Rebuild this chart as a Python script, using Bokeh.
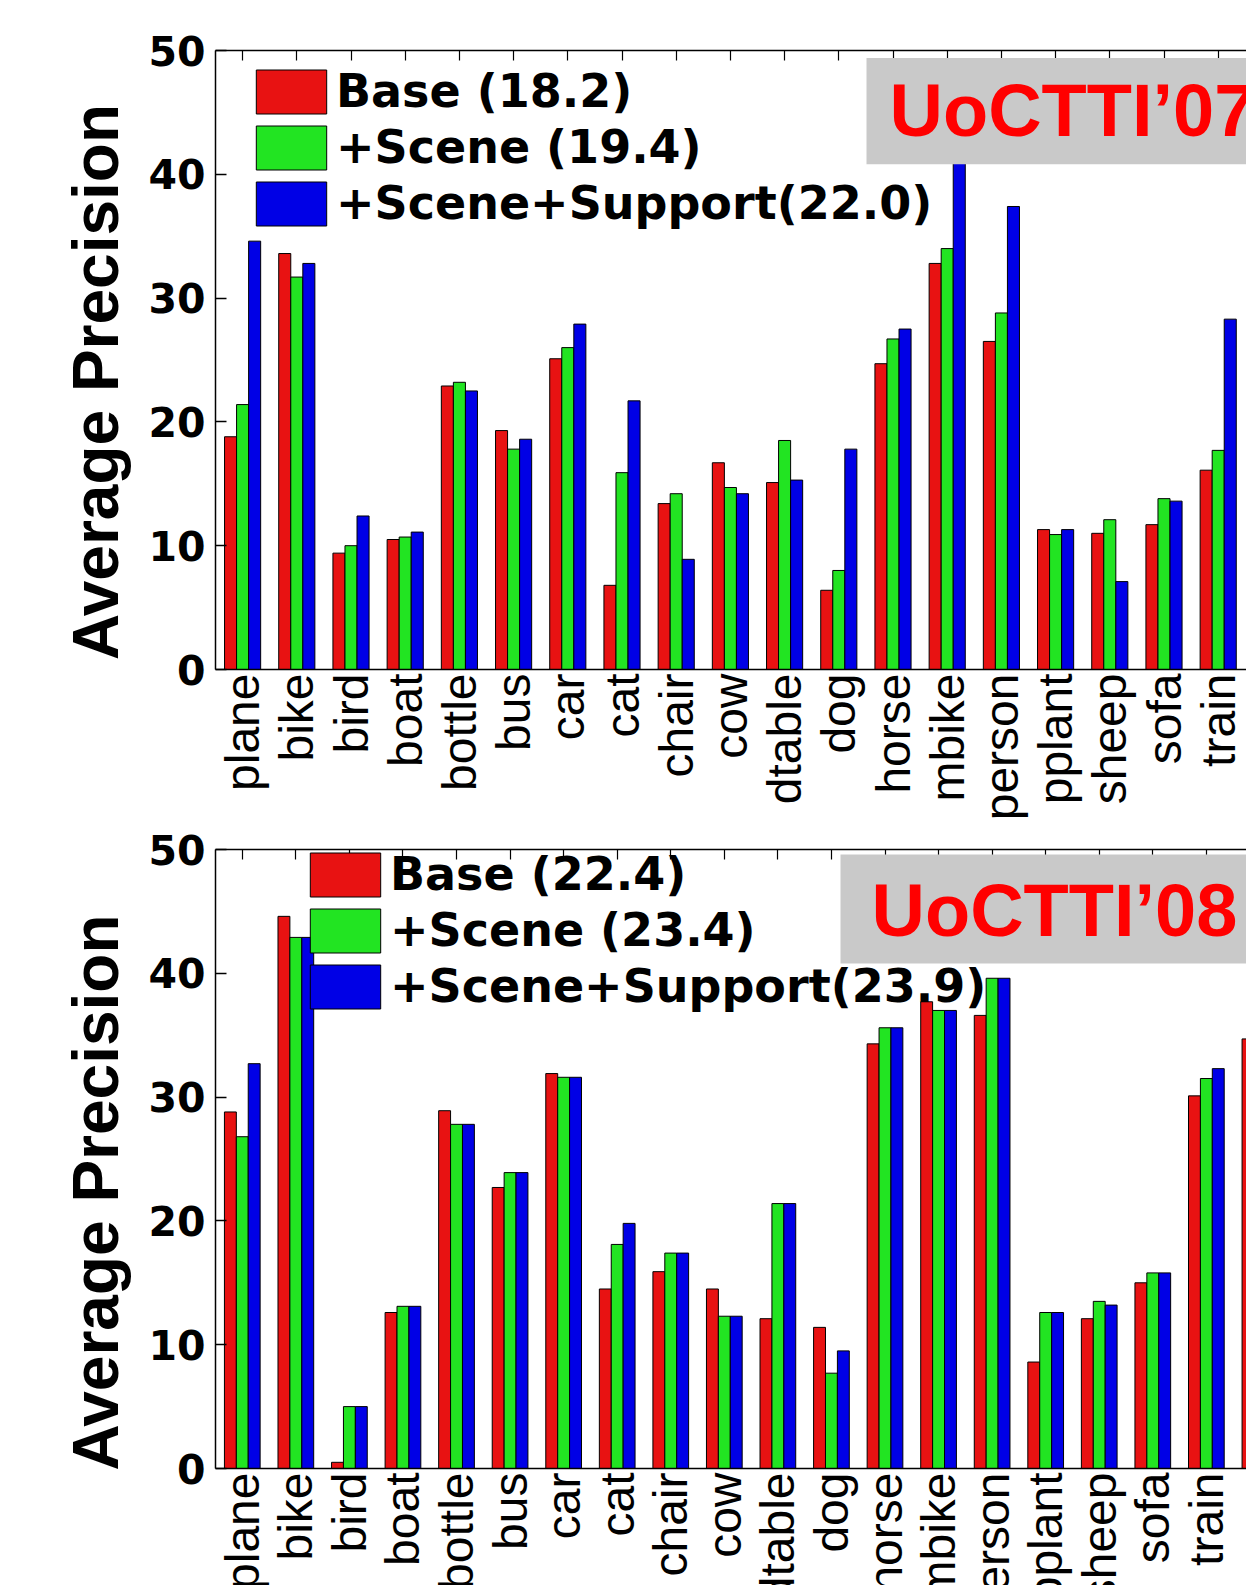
import math
from bokeh.plotting import figure
from bokeh.models import (Range1d, LinearAxis, FixedTicker, Label, ColumnDataSource,
                          Legend, LegendItem, BoxAnnotation)
from bokeh.embed import file_html
from bokeh.resources import INLINE

categories = ["plane", "bike", "bird", "boat", "bottle", "bus", "car", "cat", "chair", "cow",
              "dtable", "dog", "horse", "mbike", "person", "pplant", "sheep", "sofa", "train", "tv"]

# UoCTTI'07 (top panel) - the right end of the figure is cut off after "train"
base_07 = [18.8, 33.6, 9.4, 10.5, 22.9, 19.3, 25.1, 6.8, 13.4, 16.7, 15.1, 6.4, 24.7, 32.8, 26.5, 11.3, 11.0, 11.7, 16.1]
scene_07 = [21.4, 31.7, 10.0, 10.7, 23.2, 17.8, 26.0, 15.9, 14.2, 14.7, 18.5, 8.0, 26.7, 34.0, 28.8, 10.9, 12.1, 13.8, 17.7]
support_07 = [34.6, 32.8, 12.4, 11.1, 22.5, 18.6, 27.9, 21.7, 8.9, 14.2, 15.3, 17.8, 27.5, 42.0, 37.4, 11.3, 7.1, 13.6, 28.3]
legend_07 = ["Base (18.2)", "+Scene (19.4)", "+Scene+Support(22.0)"]

# UoCTTI'08 (bottom panel) - only the red bar of "tv" is partly visible
base_08 = [28.8, 44.6, 0.5, 12.6, 28.9, 22.7, 31.9, 14.5, 15.9, 14.5, 12.1, 11.4, 34.3, 37.7, 36.6, 8.6, 12.1, 15.0, 30.1, 34.7]
scene_08 = [26.8, 42.9, 5.0, 13.1, 27.8, 23.9, 31.6, 18.1, 17.4, 12.3, 21.4, 7.7, 35.6, 37.0, 39.6, 12.6, 13.5, 15.8, 31.5]
support_08 = [32.7, 42.9, 5.0, 13.1, 27.8, 23.9, 31.6, 19.8, 17.4, 12.3, 21.4, 9.5, 35.6, 37.0, 39.6, 12.6, 13.2, 15.8, 32.3]
legend_08 = ["Base (22.4)", "+Scene (23.4)", "+Scene+Support(23.9)"]

y_ticks = [0, 10, 20, 30, 40, 50]
bar_colors = ["#e81212", "#22e422", "#0000e6"]
bar_w = 2.0 / 9.0
offsets = [-bar_w, 0.0, bar_w]

# ---- page geometry (pixels) ----
W, H = 1246, 1585
AXIS_LEFT = 215

p = figure(width=W, height=H, x_range=Range1d(0, W), y_range=Range1d(0, H),
           x_axis_type=None, y_axis_type=None, output_backend="svg", toolbar_location=None,
           min_border=0, min_border_left=0, min_border_right=0, min_border_top=0,
           min_border_bottom=0)
p.outline_line_color = None
p.background_fill_color = "white"
p.border_fill_color = "white"


def add_panel(tag, px_per_cat, y_zero_px, y_top_px, series, labels, title, box_px, title_px,
              ylabel_px_y, legend_px):
    xs = "x" + tag
    ys = "y" + tag
    x_start = -0.5 - AXIS_LEFT / px_per_cat
    x_end = -0.5 + (W - AXIS_LEFT) / px_per_cat
    ppu = (y_zero_px - y_top_px) / 50.0
    y_start = -(H - y_zero_px) / ppu
    y_end = y_zero_px / ppu
    p.extra_x_ranges[xs] = Range1d(x_start, x_end)
    p.extra_y_ranges[ys] = Range1d(y_start, y_end)

    def xd(px):
        return -0.5 + (px - AXIS_LEFT) / px_per_cat

    def yd(py):
        return (y_zero_px - py) / ppu

    # bars
    rends = []
    for vals, off, col in zip(series, offsets, bar_colors):
        src = ColumnDataSource(dict(x=[i + off for i in range(len(vals))], top=vals))
        r = p.vbar(x="x", top="top", width=bar_w, bottom=0, source=src, fill_color=col,
                   line_color="black", line_width=1, x_range_name=xs, y_range_name=ys)
        rends.append(r)

    # left axis
    ya = LinearAxis(x_range_name=xs, y_range_name=ys, fixed_location=-0.5, bounds=(0, 50),
                    ticker=FixedTicker(ticks=y_ticks), major_tick_in=11, major_tick_out=0,
                    minor_tick_in=0, minor_tick_out=0, axis_line_width=1.5,
                    major_tick_line_width=1.5, major_label_standoff=10,
                    major_label_text_font="DejaVu Sans", major_label_text_font_style="bold",
                    major_label_text_font_size="41px", major_label_text_color="black")
    p.add_layout(ya, "left")

    # bottom axis with category names
    xa = LinearAxis(x_range_name=xs, y_range_name=ys, fixed_location=0, bounds=(-0.5, x_end),
                    ticker=FixedTicker(ticks=list(range(len(categories)))),
                    major_label_overrides={i: c for i, c in enumerate(categories)},
                    major_label_orientation=math.pi / 2, major_tick_in=0, major_tick_out=0,
                    minor_tick_in=0, minor_tick_out=0, axis_line_width=1.5,
                    major_label_standoff=4, major_label_text_font="Liberation Sans",
                    major_label_text_font_size="48px", major_label_text_color="black")
    p.add_layout(xa, "below")

    # top frame line with small inward ticks
    ta = LinearAxis(x_range_name=xs, y_range_name=ys, fixed_location=50, bounds=(-0.5, x_end),
                    ticker=FixedTicker(ticks=[], minor_ticks=list(range(len(categories)))),
                    major_tick_in=0, major_tick_out=0, minor_tick_in=10, minor_tick_out=0,
                    minor_tick_line_width=1.2, axis_line_width=1.5)
    p.add_layout(ta, "above")

    # grey title box
    bl, bt, bb = box_px
    p.add_layout(BoxAnnotation(left=xd(bl), right=x_end, top=yd(bt), bottom=yd(bb),
                               x_range_name=xs, y_range_name=ys, fill_color="#c9c9c9",
                               fill_alpha=1.0, line_color=None))
    tx, ty = title_px
    p.add_layout(Label(x=xd(tx), y=yd(ty), x_range_name=xs, y_range_name=ys, text=title,
                       text_color="#ff0000", text_font="Liberation Sans",
                       text_font_style="bold", text_font_size="74px", text_baseline="middle"))

    # legend (drawn beneath the bars, as in the original)
    lx, ly_top = legend_px
    leg_h = 3 * 55 + 2 * 1
    items = [LegendItem(label=lab, renderers=[r]) for lab, r in zip(labels, rends)]
    leg = Legend(items=items, location=(lx, H - (ly_top + leg_h)), orientation="vertical",
                 glyph_width=88, glyph_height=55, spacing=1, padding=0, margin=0,
                 label_standoff=1, border_line_color=None, background_fill_alpha=0.0,
                 label_text_font="DejaVu Sans", label_text_font_style="bold",
                 label_text_font_size="46px", label_text_color="black", level="underlay")
    p.add_layout(leg)

    # y axis title
    p.add_layout(Label(x=95, x_units="screen", y=yd(ylabel_px_y), x_range_name=xs,
                       y_range_name=ys, angle=math.pi / 2, text="Average Precision",
                       text_align="center", text_baseline="middle",
                       text_font="Liberation Sans", text_font_style="bold",
                       text_font_size="64px", text_color="black"))


add_panel("07", 54.2, 669, 50, [base_07, scene_07, support_07], legend_07, "UoCTTI\u201907",
          (866, 57.6, 163.7), (889, 110), 381.5, (247, 63.5))
add_panel("08", 53.56, 1468, 849, [base_08, scene_08, support_08], legend_08, "UoCTTI\u201908",
          (840, 854, 963), (871, 909.5), 1192, (301, 846.5))

open("out.html", "w").write(file_html(p, INLINE))
